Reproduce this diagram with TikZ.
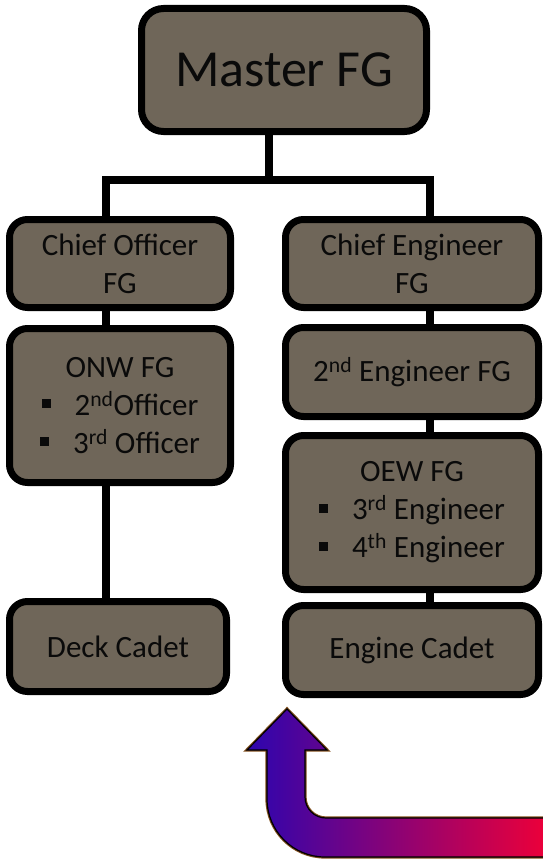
\documentclass[tikz,border=0pt]{standalone}
\usepackage{fontspec}
\setmainfont{Carlito}
\pgfdeclarelayer{bg}
\pgfsetlayers{bg,main}
\begin{document}
\begin{tikzpicture}[x=1pt,y=-1pt,
  box/.style={draw=black, line width=7pt, fill={rgb,255:red,111;green,102;blue,89},
    rounded corners=18pt, inner sep=0pt, outer sep=0pt, align=center, text={rgb,255:red,10;green,10;blue,10},
    font=\fontsize{31}{38}\selectfont},
  conn/.style={line width=8pt, draw=black, line join=miter},
  connshadow/.style={line width=7pt, draw=black!40, line join=miter}
]
\useasboundingbox (0,0) rectangle (543,859);
\newcommand{\mybul}{\rule[7pt]{9pt}{9pt}\hspace{24pt}}

% connector coordinates
\coordinate (jm) at (269,179.5);
\coordinate (jl) at (106,179.5);
\coordinate (jr) at (429.5,179.5);

% boxes
\node[box, rounded corners=22pt, minimum width=285pt, minimum height=123pt,
  font=\fontsize{52}{60}\selectfont] (master) at (284,70) {Master FG};
\node[box, minimum width=221pt, minimum height=88pt] (cof) at (120,263.5) {Chief Officer\\FG};
\node[box, minimum width=221pt, minimum height=154pt] (onw) at (120,405.5)
  {ONW FG\\\mybul 2\textsuperscript{nd}Officer\\\mybul 3\textsuperscript{rd} Officer};
\node[box, minimum width=217pt, minimum height=90pt] (deck) at (118,646.5) {Deck Cadet};
\node[box, minimum width=253pt, minimum height=88pt] (cen) at (412,263.5) {Chief Engineer\\FG};
\node[box, minimum width=253pt, minimum height=89pt] (eng2) at (412,372) {2\textsuperscript{nd} Engineer FG};
\node[box, minimum width=253pt, minimum height=154pt] (oew) at (412,512.5)
  {OEW FG\\\mybul 3\textsuperscript{rd} Engineer\\\mybul 4\textsuperscript{th} Engineer};
\node[box, minimum width=253pt, minimum height=89pt] (ecad) at (412,650) {Engine Cadet};

\begin{pgfonlayer}{bg}
% connector shadows
\begin{scope}[shift={(6,3)}]
  \draw[connshadow] (master.south -| jm) -- (jm);
  \draw[connshadow] (cof.north -| jl) |- (jr) -- (cen.north -| jr);
  \draw[connshadow] (cof.south -| jl) -- (onw.north -| jl);
  \draw[connshadow] (onw.south -| jl) -- (deck.north -| jl);
  \draw[connshadow] (cen.south -| jr) -- (eng2.north -| jr);
  \draw[connshadow] (eng2.south -| jr) -- (oew.north -| jr);
  \draw[connshadow] (oew.south -| jr) -- (ecad.north -| jr);
\end{scope}
% connectors
\draw[conn] (master.south -| jm) -- (jm);
\draw[conn] (cof.north -| jl) |- (jr) -- (cen.north -| jr);
\draw[conn] (cof.south -| jl) -- (onw.north -| jl);
\draw[conn] (onw.south -| jl) -- (deck.north -| jl);
\draw[conn] (cen.south -| jr) -- (eng2.north -| jr);
\draw[conn] (eng2.south -| jr) -- (oew.north -| jr);
\draw[conn] (oew.south -| jr) -- (ecad.north -| jr);
\end{pgfonlayer}

% bent arrow
\path[preaction={draw={rgb,255:red,130;green,80;blue,30}, line width=3.2pt},
  left color={rgb,255:red,45;green,5;blue,175},
  middle color={rgb,255:red,140;green,0;blue,140},
  right color={rgb,255:red,240;green,0;blue,55},
  draw=black, line width=1.2pt, line join=miter]
  (287,709) -- (327,750) -- (305,750) -- (305,797)
  arc[start angle=180, end angle=90, radius=21]
  -- (552,818) -- (552,857) -- (325,857)
  arc[start angle=90, end angle=180, radius=58]
  -- (267,750) -- (247,750) -- cycle;
\end{tikzpicture}
\end{document}
